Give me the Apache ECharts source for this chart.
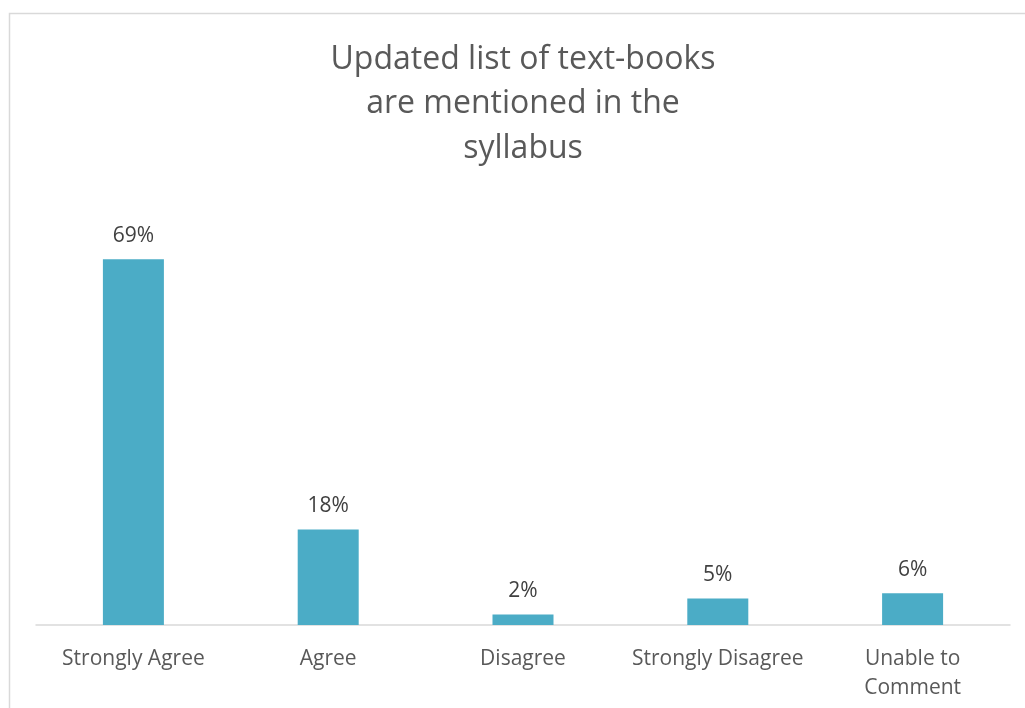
<!DOCTYPE html>
<html><head><meta charset="utf-8">
<script src="https://cdn.jsdelivr.net/npm/echarts@6/dist/echarts.min.js"></script>
<style>html,body{margin:0;padding:0;background:#fff}#c{width:1025px;height:708px}</style>
</head><body><div id="c"></div>
<script>
var categories = ['Strongly Agree', 'Agree', 'Disagree', 'Strongly Disagree', 'Unable to\nComment'];
var values = [69, 18, 2, 5, 6];
var titleText = 'Updated list of text-books\nare mentioned in the\nsyllabus';

var chart = echarts.init(document.getElementById('c'));
var FONT = 'Open Sans';
chart.setOption({
  animation: false,
  graphic: [{
    type: 'rect', left: 7, top: 11, silent: true,
    shape: { width: 1030, height: 720 },
    style: { fill: 'none', stroke: '#d9d9d9', lineWidth: 1.5 }
  }, {
    type: 'text', x: 523, y: 37.5, silent: true,
    style: {
      text: titleText, align: 'center', verticalAlign: 'top',
      font: '32px "Open Sans"', lineHeight: 44.5, fill: '#595959'
    }
  }],
  grid: { left: 36, right: 15, top: 201, bottom: 83, containLabel: false },
  xAxis: {
    type: 'category', data: categories,
    axisLine: { lineStyle: { color: '#d9d9d9', width: 1.5 } },
    axisTick: { show: false },
    axisLabel: { interval: 0, margin: 20, fontFamily: FONT, fontSize: 21, color: '#595959', lineHeight: 29 }
  },
  yAxis: {
    type: 'value', min: 0, max: 80, show: false, splitLine: { show: false }
  },
  series: [{
    type: 'bar', data: values, barWidth: 61,
    itemStyle: { color: '#4BACC6' },
    label: { show: true, position: 'top', distance: 13, formatter: '{c}%', fontFamily: FONT, fontSize: 21, color: '#404040' }
  }]
});
</script></body></html>
